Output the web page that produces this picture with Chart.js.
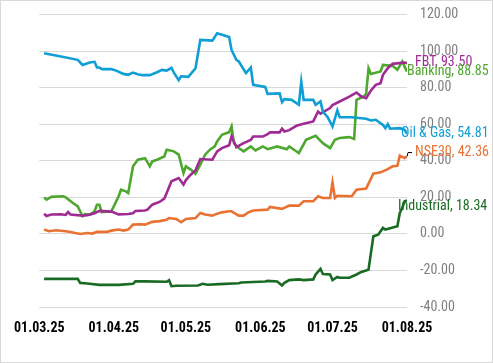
<!DOCTYPE html>
<html>
<head>
<meta charset="utf-8">
<script src="https://cdn.jsdelivr.net/npm/chart.js@4.4.1/dist/chart.umd.min.js"></script>
<style>
  html, body { margin: 0; padding: 0; background: #fff; }
  #wrap { width: 493px; height: 363px; box-sizing: border-box; border: 1px solid #d9d9d9; position: relative; }
  canvas { display: block; }
</style>
</head>
<body>
<div id="wrap"><canvas id="c" width="491" height="361"></canvas></div>
<script>
// Day offsets are counted from 01.03.25 (day 0) to 01.08.25 (day 153)
const tickDays   = [0, 31, 61, 92, 122, 153];
const tickLabels = ['01.03.25', '01.04.25', '01.05.25', '01.06.25', '01.07.25', '01.08.25'];

const oilGasDays   = [2,9,16,18,21,23,24,25,26,30,32,35,37,39,41,43,46,49,51,53,55,56,58,59,62,65,67,72,74,79,80,82,83,86,88,89,94,95,100,101,102,105,108,109,110,114,115,117,118,120,122,124,125,130,136,138,140,143,144,145,146,150,152,153];
const oilGasValues = [98.9,97.1,95.3,92.5,93.8,94.2,91.1,91.1,90.2,90.2,89.4,87.6,87.1,88.3,87.4,86.9,86.9,88.5,89.8,89.4,90.9,88.3,84.2,86.3,86.0,90.7,106.2,105.8,109.8,107.8,100.7,95.3,94.4,88.0,91.1,81.6,80.5,76.7,76.9,72.1,73.8,73.4,70.7,83.4,73.4,73.4,70.7,72.5,67.0,63.9,58.8,67.6,63.9,63.9,63.0,62.1,62.5,59.7,57.9,60.1,57.6,57.9,57.0,54.81];

const fbtDays   = [2,3,5,9,11,12,13,18,20,23,25,30,33,37,39,40,44,45,47,50,52,53,55,58,60,61,63,65,67,72,74,76,79,80,82,85,88,89,93,95,96,100,101,102,104,107,110,114,116,117,121,122,125,129,132,134,136,138,140,142,143,145,147,152,153];
const fbtValues = [11.0,9.8,10.6,10.8,10.4,12.0,10.6,10.0,10.3,11.3,12.6,12.2,10.7,10.9,11.3,12.6,12.8,13.3,16.0,17.5,19.3,22.4,28.8,30.6,27.0,29.5,32.4,34.8,41.0,40.6,45.2,47.0,48.5,53.5,47.5,49.7,51.5,53.3,53.3,54.6,55.6,55.6,57.6,56.1,56.8,59.2,60.3,61.6,67.0,65.8,68.9,70.5,72.5,75.2,77.4,75.2,74.3,78.5,81.6,82.5,87.1,90.7,93.1,93.8,93.50];

const bankingDays   = [2,3,5,10,11,14,16,18,19,21,23,24,25,26,30,33,34,36,37,39,41,44,46,47,49,52,53,56,58,60,61,63,65,67,69,71,73,74,76,78,79,80,81,83,85,88,90,93,95,99,103,104,106,108,111,115,118,121,123,125,129,131,132,135,136,137,138,142,143,147,149,151,152,153];
const bankingValues = [20.0,18.8,20.3,20.6,20.0,16.9,15.1,9.7,10.9,10.5,12.4,16.0,16.0,12.0,12.4,20.6,24.2,23.3,22.4,37.0,40.6,41.5,37.0,39.7,40.6,42.4,46.1,45.2,43.4,33.3,37.0,35.2,33.0,37.9,43.4,46.1,47.9,50.6,54.3,55.2,55.6,58.8,49.7,47.0,45.2,47.9,45.7,47.9,46.4,47.9,46.4,47.9,46.1,44.3,51.5,53.7,49.7,47.0,51.5,52.5,53.0,52.0,73.4,75.2,76.7,90.7,87.6,88.9,92.5,92.0,89.8,94.4,91.6,88.85];

const nse30Days   = [2,4,7,11,13,15,17,20,22,24,28,30,33,35,37,39,42,44,47,50,53,54,57,59,61,65,67,69,72,74,76,79,80,83,85,87,89,95,96,101,104,108,110,114,116,118,121,122,123,124,130,132,136,139,142,145,147,149,150,152,153];
const nse30Values = [2.4,1.5,2.0,1.5,1.1,0.5,0.0,0.5,0.2,1.1,1.1,1.8,2.4,1.8,2.4,5.1,5.3,5.1,6.6,7.0,7.8,8.7,8.2,6.4,8.2,8.7,11.5,10.6,10.0,11.1,11.8,12.4,12.4,10.0,10.0,11.8,12.8,13.3,14.8,13.7,15.5,15.5,17.9,17.9,20.6,19.7,19.7,28.2,19.7,20.9,20.6,24.2,24.8,33.0,33.7,35.5,37.0,37.3,42.8,41.5,42.36];

const industrialDays   = [2,16,17,20,25,33,39,40,44,53,54,55,57,66,68,70,75,83,84,94,95,99,101,102,104,108,110,114,115,117,118,121,122,124,125,129,132,134,136,137,139,141,143,144,149,150,151,152,153];
const industrialValues = [-24.6,-24.6,-26.8,-27.1,-27.9,-27.9,-27.3,-25.9,-26.0,-26.2,-25.3,-28.6,-28.4,-28.2,-27.3,-27.8,-27.5,-27.0,-26.6,-26.0,-25.7,-26.0,-28.2,-26.8,-25.3,-24.9,-25.3,-24.9,-22.2,-19.1,-21.9,-22.2,-25.3,-23.5,-24.0,-24.0,-22.2,-20.8,-20.0,-19.5,-1.3,-0.4,3.3,2.4,4.2,11.5,14.2,17.9,18.34];

const seriesNames  = ['Oil & Gas', 'FBT', 'Banking', 'NSE30', 'Industrial'];
const seriesColors = ['#0F9ED5', '#A02B93', '#4EA72E', '#E97132', '#196B24'];

const FONT = "Roboto, 'Open Sans', sans-serif";

function pts(days, vals) { return days.map((d, i) => ({ x: d, y: vals[i] })); }
const allDays = [oilGasDays, fbtDays, bankingDays, nse30Days, industrialDays];
const allVals = [oilGasValues, fbtValues, bankingValues, nse30Values, industrialValues];

// end label placement (pixel offsets from last point)
const labelOffsets = [
  { dx: -6, dy: 0 },   // Oil & Gas
  { dx: 8,  dy: -1 },  // FBT
  { dx: 0,  dy: 0 },   // Banking
  { dx: 8,  dy: -4, leader: true }, // NSE30
  { dx: -9, dy: 6 }    // Industrial
];

const endLabels = {
  id: 'endLabels',
  afterDatasetsDraw(chart) {
    const ctx = chart.ctx;
    ctx.save();
    ctx.font = 'condensed 14px ' + FONT;
    ctx.textBaseline = 'middle';
    ctx.textAlign = 'left';
    chart.data.datasets.forEach((ds, i) => {
      const meta = chart.getDatasetMeta(i);
      const last = meta.data[meta.data.length - 1];
      const v = ds.data[ds.data.length - 1].y;
      const off = labelOffsets[i];
      const x = last.x + off.dx, y = last.y + off.dy;
      if (off.leader) {
        ctx.strokeStyle = '#000';
        ctx.lineWidth = 1;
        ctx.beginPath();
        ctx.moveTo(last.x, last.y);
        ctx.lineTo(last.x + 1, y);
        ctx.lineTo(x - 3, y);
        ctx.stroke();
      }
      ctx.fillStyle = ds.borderColor;
      ctx.fillText(ds.label + ', ' + v.toFixed(2), x, y);
    });
    ctx.restore();
  }
};

new Chart(document.getElementById('c'), {
  type: 'line',
  data: {
    datasets: seriesNames.map((n, i) => ({
      label: n,
      data: pts(allDays[i], allVals[i]),
      borderColor: seriesColors[i],
      backgroundColor: seriesColors[i],
      borderWidth: 2.6,
      pointRadius: 0,
      tension: 0,
      fill: false
    }))
  },
  options: {
    responsive: false,
    animation: false,
    layout: { padding: { left: 38, top: 13.7, right: 0, bottom: 0 } },
    plugins: { legend: { display: false }, tooltip: { enabled: false } },
    scales: {
      x: {
        type: 'linear',
        min: 0, max: 153,
        afterBuildTicks: s => { s.ticks = tickDays.map(v => ({ value: v })); },
        afterFit: s => { s.height = 55; },
        grid: { display: false, drawTicks: false },
        border: { display: false },
        ticks: {
          autoSkip: false, maxRotation: 0, padding: 13,
          color: '#000',
          font: { family: FONT, size: 14, weight: 'bold condensed' },
          callback: (v) => tickLabels[tickDays.indexOf(v)] || ''
        }
      },
      y: {
        position: 'right',
        min: -40, max: 120,
        afterFit: s => { s.width = 85; s.paddingTop = 0; s.paddingBottom = 0; },
        grid: { color: '#d9d9d9', lineWidth: 1, drawTicks: false },
        border: { display: false },
        ticks: {
          stepSize: 20, padding: 13,
          color: '#7f7f7f',
          font: { family: FONT, size: 14, weight: 'condensed' },
          callback: v => v.toFixed(2)
        }
      }
    }
  },
  plugins: [endLabels]
});
</script>
</body>
</html>
